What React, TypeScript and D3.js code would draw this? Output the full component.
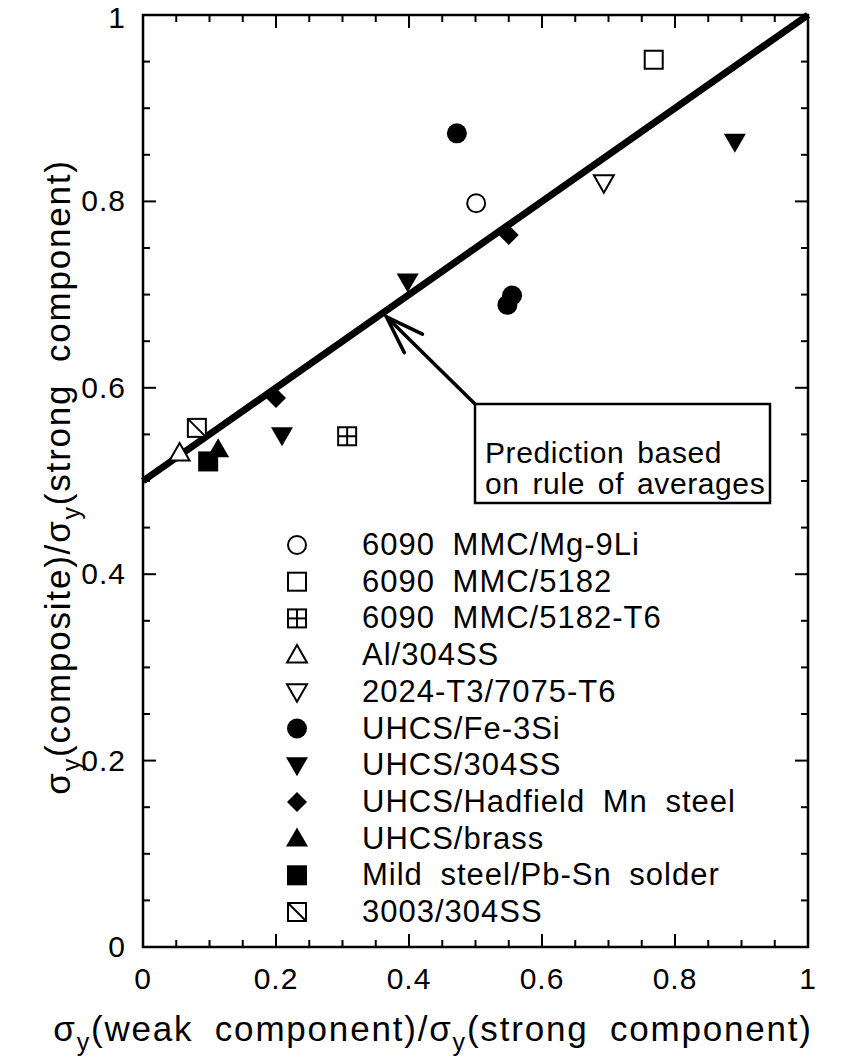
import React from "react";
import * as d3 from "d3";

// Yield-strength ratios for laminated composites
const seriesNames = [
  "6090 MMC/Mg-9Li",
  "6090 MMC/5182",
  "6090 MMC/5182-T6",
  "Al/304SS",
  "2024-T3/7075-T6",
  "UHCS/Fe-3Si",
  "UHCS/304SS",
  "UHCS/Hadfield Mn steel",
  "UHCS/brass",
  "Mild steel/Pb-Sn solder",
  "3003/304SS",
];
const seriesSymbols = [
  "circleOpen",
  "squareOpen",
  "squareCross",
  "triUpOpen",
  "triDownOpen",
  "circleFilled",
  "triDownFilled",
  "diamondFilled",
  "triUpFilled",
  "squareFilled",
  "squareSlash",
];
// [weak/strong, composite/strong] per series
const mgLi: [number, number][] = [[0.501, 0.798]];
const al5182: [number, number][] = [[0.768, 0.952]];
const al5182T6: [number, number][] = [[0.307, 0.548]];
const al304: [number, number][] = [[0.055, 0.53]];
const al2024: [number, number][] = [[0.693, 0.82]];
const fe3si: [number, number][] = [[0.472, 0.873], [0.555, 0.699], [0.548, 0.689]];
const uhcs304: [number, number][] = [[0.209, 0.549], [0.398, 0.714], [0.89, 0.864]];
const hadfield: [number, number][] = [[0.2, 0.589], [0.55, 0.764]];
const brass: [number, number][] = [[0.113, 0.534]];
const solder: [number, number][] = [[0.098, 0.521]];
const ss3003: [number, number][] = [[0.081, 0.557]];
const seriesData = [mgLi, al5182, al5182T6, al304, al2024, fe3si, uhcs304, hadfield, brass, solder, ss3003];

const xTicks = [0, 0.2, 0.4, 0.6, 0.8, 1];
const yTicks = [0, 0.2, 0.4, 0.6, 0.8, 1];
const tickLabels = ["0", "0.2", "0.4", "0.6", "0.8", "1"];
const ruleOfAverages: [number, number][] = [[0, 0.5], [1, 1]];

const W = 846;
const H = 1058;
const left = 143, right = 808, top = 15, bottom = 947;
const FONT = "'Liberation Sans', Arial, Helvetica, sans-serif";

function Marker({ kind, cx, cy }: { kind: string; cx: number; cy: number }) {
  const s = 10;
  const sw = 2;
  switch (kind) {
    case "circleOpen":
      return <circle cx={cx} cy={cy} r={s - 1} fill="#fff" stroke="#000" strokeWidth={sw} />;
    case "circleFilled":
      return <circle cx={cx} cy={cy} r={s} fill="#000" />;
    case "squareOpen":
      return <rect x={cx - s + 1} y={cy - s + 1} width={2 * s - 2} height={2 * s - 2} fill="#fff" stroke="#000" strokeWidth={sw} />;
    case "squareFilled":
      return <rect x={cx - s} y={cy - s} width={2 * s} height={2 * s} fill="#000" />;
    case "squareCross":
      return (
        <g stroke="#000" strokeWidth={sw} fill="#fff">
          <rect x={cx - s + 1} y={cy - s + 1} width={2 * s - 2} height={2 * s - 2} />
          <line x1={cx} y1={cy - s + 1} x2={cx} y2={cy + s - 1} />
          <line x1={cx - s + 1} y1={cy} x2={cx + s - 1} y2={cy} />
        </g>
      );
    case "squareSlash":
      return (
        <g stroke="#000" strokeWidth={sw} fill="#fff">
          <rect x={cx - s + 1} y={cy - s + 1} width={2 * s - 2} height={2 * s - 2} />
          <line x1={cx - s + 1} y1={cy - s + 1} x2={cx + s - 1} y2={cy + s - 1} />
        </g>
      );
    case "triUpOpen":
      return <path d={`M${cx},${cy - s}L${cx + s},${cy + s * 0.75}L${cx - s},${cy + s * 0.75}Z`} fill="#fff" stroke="#000" strokeWidth={sw} />;
    case "triUpFilled":
      return <path d={`M${cx},${cy - s - 1}L${cx + s + 1},${cy + s * 0.8}L${cx - s - 1},${cy + s * 0.8}Z`} fill="#000" />;
    case "triDownOpen":
      return <path d={`M${cx},${cy + s}L${cx + s},${cy - s * 0.75}L${cx - s},${cy - s * 0.75}Z`} fill="#fff" stroke="#000" strokeWidth={sw} />;
    case "triDownFilled":
      return <path d={`M${cx},${cy + s + 1}L${cx + s + 1},${cy - s * 0.8}L${cx - s - 1},${cy - s * 0.8}Z`} fill="#000" />;
    case "diamondFilled":
      return <path d={`M${cx},${cy - s}L${cx + s},${cy}L${cx},${cy + s}L${cx - s},${cy}Z`} fill="#000" />;
    default:
      return null;
  }
}

export default function App() {
  const x = d3.scaleLinear().domain([0, 1]).range([left, right]);
  const y = d3.scaleLinear().domain([0, 1]).range([bottom, top]);
  const minor = d3.range(0, 1.0001, 0.05);
  const line = d3.line<[number, number]>().x((d) => x(d[0])).y((d) => y(d[1]));

  const majorLen = 13;
  const minorLen = 7;
  const isMajor = (v: number) => Math.abs(v * 5 - Math.round(v * 5)) < 1e-6;

  // annotation arrow: tip on the prediction line, tail at the box corner
  const tipX = 0.363;
  const tip: [number, number] = [x(tipX) + 2, y(0.5 + tipX / 2) + 5];
  const tail: [number, number] = [475, 404];
  const ang = Math.atan2(tail[1] - tip[1], tail[0] - tip[0]);
  const headLen = 40;
  const spread = 0.33;
  const b1: [number, number] = [tip[0] + headLen * Math.cos(ang - spread), tip[1] + headLen * Math.sin(ang - spread)];
  const b2: [number, number] = [tip[0] + headLen * Math.cos(ang + spread), tip[1] + headLen * Math.sin(ang + spread)];

  const legendX = 297;
  const legendTextX = 362;
  const legendY0 = 545;
  const legendStep = 36.7;

  return (
    <svg width={W} height={H} style={{ position: "absolute", left: 0, top: 0, background: "#fff" }} fontFamily={FONT}>
      <rect x={0} y={0} width={W} height={H} fill="#fff" />
      {/* ticks on all four sides, pointing inward */}
      <g stroke="#000" strokeWidth={2}>
        {minor.map((v, i) => {
          const len = isMajor(v) ? majorLen : minorLen;
          return (
            <g key={i}>
              <line x1={x(v)} y1={bottom} x2={x(v)} y2={bottom - len} />
              <line x1={x(v)} y1={top} x2={x(v)} y2={top + len} />
              <line x1={left} y1={y(v)} x2={left + len} y2={y(v)} />
              <line x1={right} y1={y(v)} x2={right - len} y2={y(v)} />
            </g>
          );
        })}
      </g>
      <rect x={left} y={top} width={right - left} height={bottom - top} fill="none" stroke="#000" strokeWidth={2.5} />

      {/* tick labels */}
      <g fontSize={30} fill="#000" letterSpacing={1}>
        {xTicks.map((v, i) => (
          <text key={"x" + i} x={x(v)} y={989} textAnchor="middle">{tickLabels[i]}</text>
        ))}
        {yTicks.map((v, i) => (
          <text key={"y" + i} x={126} y={Math.max(y(v) + 10, 28)} textAnchor="end">{tickLabels[i]}</text>
        ))}
      </g>

      {/* axis titles */}
      <text x={433} y={1041} fontSize={35} textAnchor="middle" wordSpacing={10} letterSpacing={1.8}>
        σ<tspan fontSize={25} dy={10}>y</tspan><tspan dy={-10}>(weak component)/σ</tspan>
        <tspan fontSize={25} dy={10}>y</tspan><tspan dy={-10}>(strong component)</tspan>
      </text>
      <text transform={`translate(70,477) rotate(-90)`} fontSize={35} textAnchor="middle" wordSpacing={10} letterSpacing={1.8}>
        σ<tspan fontSize={25} dy={10}>y</tspan><tspan dy={-10}>(composite)/σ</tspan>
        <tspan fontSize={25} dy={10}>y</tspan><tspan dy={-10}>(strong component)</tspan>
      </text>

      {/* rule of averages */}
      <path d={line(ruleOfAverages) || ""} stroke="#000" strokeWidth={7} fill="none" />

      {/* data */}
      {seriesData.map((pts, si) =>
        pts.map((p, pi) => <Marker key={si + "-" + pi} kind={seriesSymbols[si]} cx={x(p[0])} cy={y(p[1])} />)
      )}

      {/* annotation */}
      <g stroke="#000" strokeWidth={3.5} fill="none" strokeLinecap="round">
        <line x1={tail[0]} y1={tail[1]} x2={tip[0]} y2={tip[1]} />
        <polyline points={`${b1[0]},${b1[1]} ${tip[0]},${tip[1]} ${b2[0]},${b2[1]}`} strokeLinejoin="miter" />
      </g>
      <rect x={475} y={404} width={295} height={99} fill="#fff" stroke="#000" strokeWidth={2.5} />
      <text x={485} y={463} fontSize={30} wordSpacing={4} letterSpacing={0.6}>Prediction based</text>
      <text x={485} y={494} fontSize={30} wordSpacing={4} letterSpacing={0.6}>on rule of averages</text>

      {/* legend */}
      {seriesNames.map((name, i) => {
        const cy = legendY0 + i * legendStep;
        return (
          <g key={name}>
            <Marker kind={seriesSymbols[i]} cx={legendX} cy={cy} />
            <text x={legendTextX} y={cy + 10} fontSize={31} wordSpacing={8} letterSpacing={1}>{name}</text>
          </g>
        );
      })}
    </svg>
  );
}
